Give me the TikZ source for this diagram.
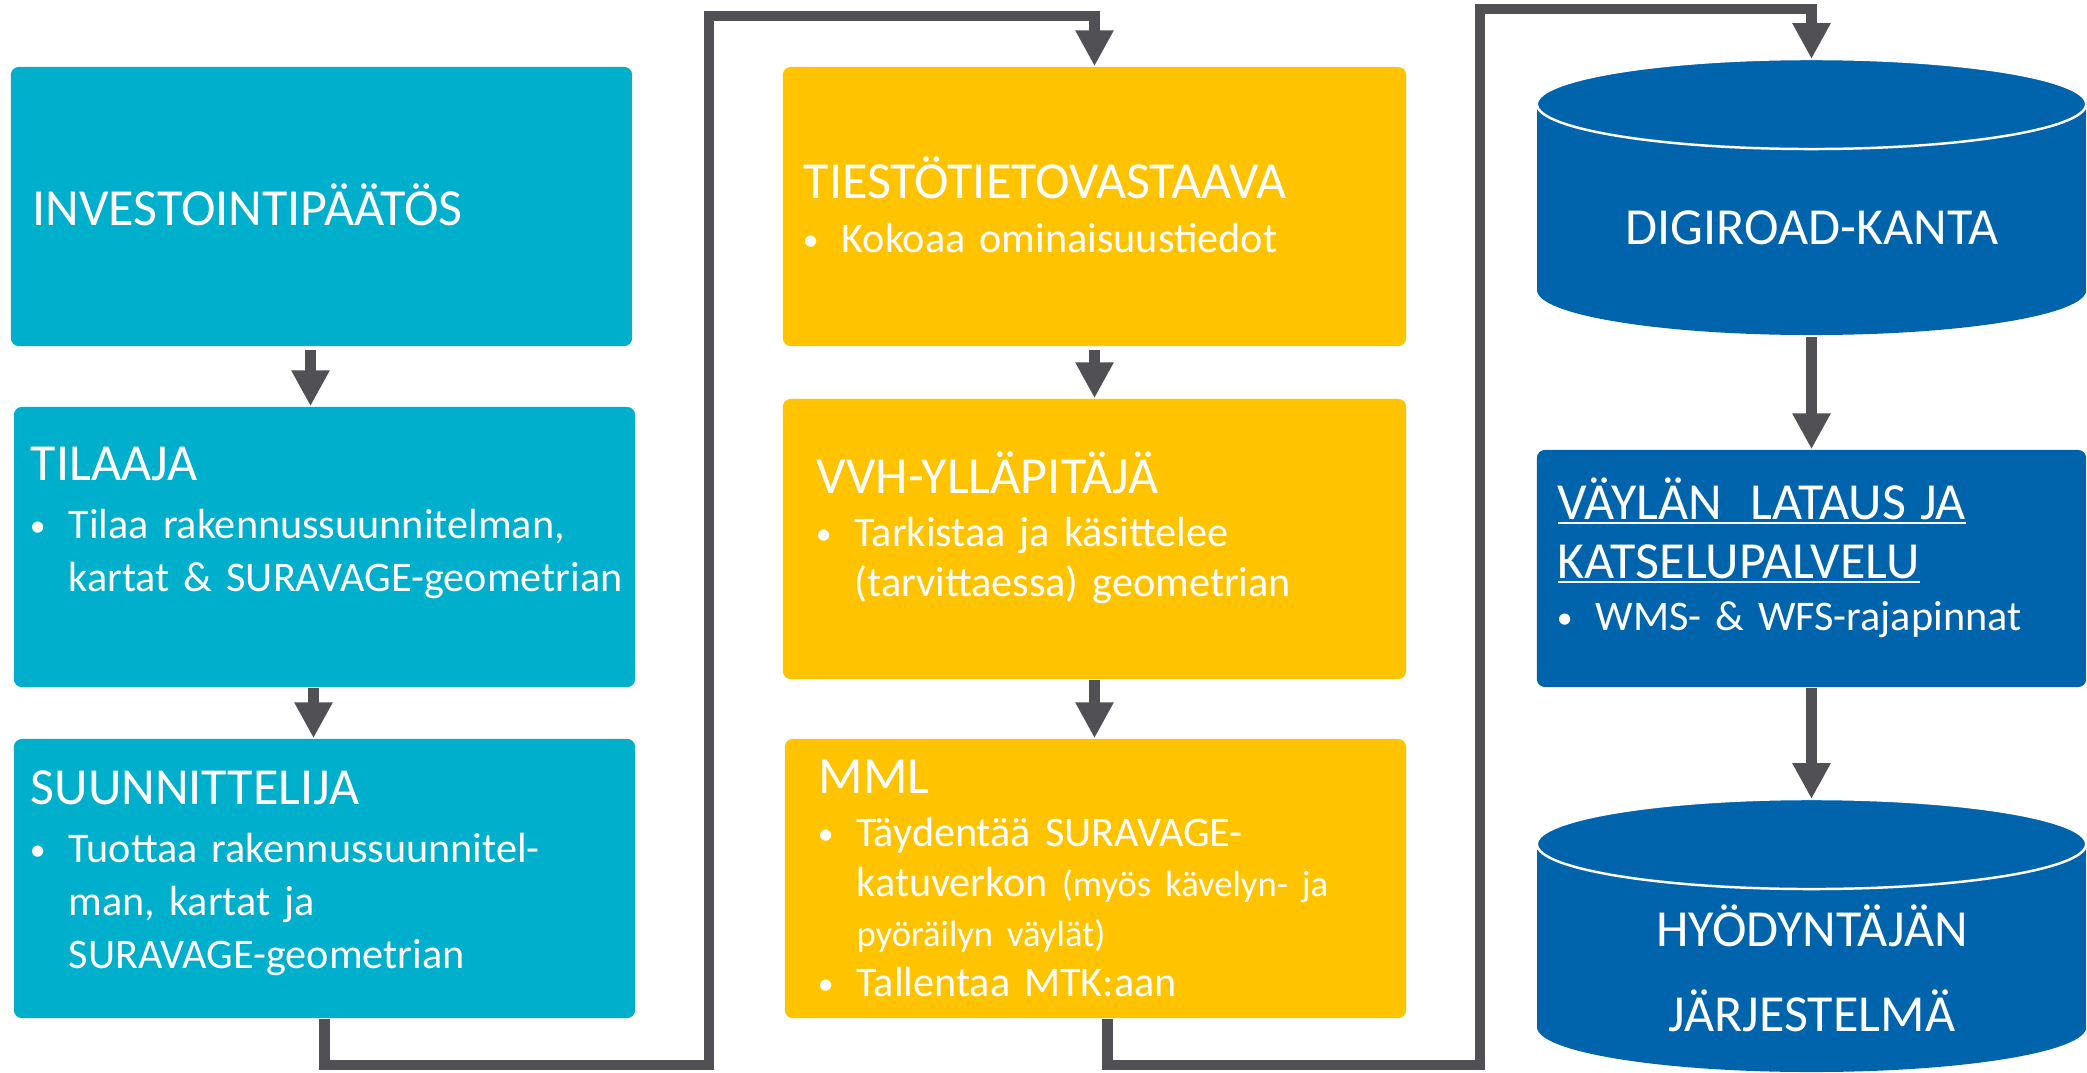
\documentclass[tikz,border=0pt]{standalone}
\usepackage{fontspec}
\setmainfont{Carlito}
\usetikzlibrary{arrows.meta}

\definecolor{tealc}{HTML}{00AFCB}
\definecolor{yelc}{HTML}{FFC300}
\definecolor{bluec}{HTML}{0064AD}
\definecolor{linec}{HTML}{505055}

\pgfdeclarehorizontalshading{tealedge}{100bp}{color(0bp)=(tealc); color(96bp)=(tealc); color(100bp)=(tealc!82!black)}
\pgfdeclarehorizontalshading{yeledge}{100bp}{color(0bp)=(yelc); color(96bp)=(yelc); color(100bp)=(yelc!85!black)}
\pgfdeclarehorizontalshading{blueedge}{100bp}{color(0bp)=(bluec); color(96bp)=(bluec); color(100bp)=(bluec!80!black)}

\newcommand{\hd}{\fontsize{14.8}{16.8}\selectfont}
\newcommand{\sm}{\fontsize{10.4}{12}\selectfont}
\newcommand{\bul}{\makebox[10.8pt][l]{\makebox[4pt][c]{\raisebox{0.7pt}{\fontsize{9}{9}\selectfont\textbullet}}}}
\newcommand{\ind}{\hspace*{10.8pt}}
\newcommand{\ulin}[1]{\leavevmode\setbox0\hbox{#1}\rlap{\rule[-1.5pt]{\wd0}{0.75pt}}\box0}

\begin{document}
\begin{tikzpicture}[
        x=0.01cm, y=-0.01cm,
        >={Triangle[width=10.2pt,length=10.2pt]},
        stagebox/.style={shade, shading=#1, rounded corners=2.3pt, inner sep=0pt},
        boxtext/.style={text=white, anchor=base west, inner sep=0pt, text width=200pt, font=\fontsize{12}{15}\selectfont},
        dbtext/.style={text=white, anchor=base, inner sep=0pt, font=\hd},
        flow/.style={->, draw=linec, line width=3.1pt},
    ]

    \useasboundingbox (0,0) rectangle (2087,1072);

    %Draw the boxes of the first column
    \node[stagebox=tealedge, minimum width=6.21cm, minimum height=2.79cm] (inv) at (321.5,206.5) {};
    \node[stagebox=tealedge, minimum width=6.21cm, minimum height=2.80cm] (til) at (324.5,547) {};
    \node[stagebox=tealedge, minimum width=6.21cm, minimum height=2.79cm] (suu) at (324.5,878.5) {};

    %Draw the boxes of the second column
    \node[stagebox=yeledge, minimum width=6.23cm, minimum height=2.79cm] (tie) at (1094.5,206.5) {};
    \node[stagebox=yeledge, minimum width=6.23cm, minimum height=2.80cm] (vvh) at (1094.5,539) {};
    \node[stagebox=yeledge, minimum width=6.21cm, minimum height=2.79cm] (mml) at (1095.5,878.5) {};

    %Draw the download service box
    \node[stagebox=blueedge, minimum width=5.49cm, minimum height=2.37cm] (vay) at (1811.5,568.5) {};

    %Draw the Digiroad database
    \shade[shading=blueedge] (1537,104) -- (1537,290)
        arc[start angle=180, end angle=360, x radius=2.745cm, y radius=0.45cm] -- (2086,104)
        arc[start angle=0, end angle=180, x radius=2.745cm, y radius=0.45cm] -- cycle;
    \draw[white, line width=0.7pt] (1811.5,104) ellipse [x radius=2.745cm, y radius=0.45cm];

    %Draw the user's system
    \shade[shading=blueedge] (1537,844) -- (1537,1027)
        arc[start angle=180, end angle=360, x radius=2.745cm, y radius=0.45cm] -- (2086,844)
        arc[start angle=0, end angle=180, x radius=2.745cm, y radius=0.45cm] -- cycle;
    \draw[white, line width=0.7pt] (1811.5,844) ellipse [x radius=2.745cm, y radius=0.45cm];

    %Texts of the first column
    \node[boxtext, font=\hd] (invtxt) at (32,225) {INVESTOINTIPÄÄTÖS};
    \node[boxtext] (tiltxt) at (30,480) {{\hd TILAAJA\par}\vspace{1.7pt}
        \bul Tilaa rakennussuunnitelman,\par
        \ind kartat \& SURAVAGE-geometrian};
    \node[boxtext] (suutxt) at (30,804) {{\hd SUUNNITTELIJA\par}\vspace{1.7pt}
        \bul Tuottaa rakennussuunnitel-\par
        \ind man, kartat ja\par
        \ind SURAVAGE-geometrian};

    %Texts of the second column
    \node[boxtext, font=\fontsize{12}{14.2}\selectfont] (tietxt) at (803,198) {{\hd TIESTÖTIETOVASTAAVA\par}\vspace{1.4pt}
        \bul Kokoaa ominaisuustiedot};
    \node[boxtext, font=\fontsize{12}{14.2}\selectfont] (vvhtxt) at (816,493) {{\hd VVH-YLLÄPITÄJÄ\par}\vspace{1.1pt}
        \bul Tarkistaa ja käsittelee\par
        \ind (tarvittaessa) geometrian};
    \node[boxtext, font=\fontsize{12}{14.2}\selectfont] (mmltxt) at (818,793) {{\hd MML\par}\vspace{1.1pt}
        \bul Täydentää SURAVAGE-\par
        \ind katuverkon {\sm (myös kävelyn- ja}\par
        \ind{\sm pyöräilyn väylät)}\par
        \bul Tallentaa MTK:aan};

    %Texts of the third column
    \node[dbtext] (dgtxt) at (1812,244) {DIGIROAD-KANTA};
    \node[boxtext] (vaytxt) at (1557,519) {{\hd\ulin{VÄYLÄN\ \ LATAUS JA}\par\ulin{KATSELUPALVELU}\par}
        \bul WMS- \& WFS-rajapinnat};
    \node[dbtext] (hytxt) at (1812,946) {HYÖDYNTÄJÄN};
    \node[dbtext] (hytxtb) at (1812,1031) {JÄRJESTELMÄ};

    %Points where the connectors turn or end
    \coordinate (dgtop) at (1811.5,59);
    \coordinate (dgbot) at (1811.5,337);
    \coordinate (hytop) at (1811.5,799);
    \coordinate (c1low) at (709,1065);
    \coordinate (c1high) at (709,16);
    \coordinate (c2low) at (1480,1065);
    \coordinate (c2high) at (1480,9);

    %Draw the arrows inside the columns
    \draw[flow, shorten <=1pt] ([xshift=-0.11cm]inv.south) -- ([xshift=-0.11cm]inv.south |- til.north);
    \draw[flow] ([xshift=-0.11cm]til.south) -- ([xshift=-0.11cm]til.south |- suu.north);
    \draw[flow, shorten <=1pt] (tie.south) -- (tie.south |- vvh.north);
    \draw[flow] (vvh.south) -- (vvh.south |- mml.north);
    \draw[flow] (dgbot) -- (vay.north);
    \draw[flow] (vay.south) -- (hytop);

    %Draw the connectors between the columns
    \draw[flow] (suu.south) |- (c1low) -- (c1high) -| (tie.north);
    \draw[flow] ([xshift=0.12cm]mml.south) |- (c2low) -- (c2high) -| (dgtop);
\end{tikzpicture}
\end{document}
